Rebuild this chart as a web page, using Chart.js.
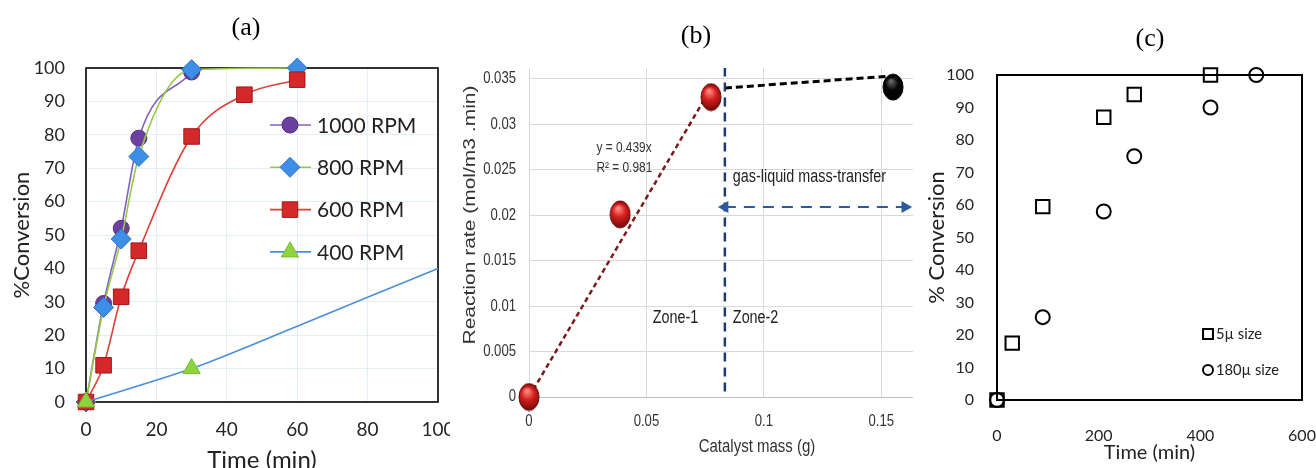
<!DOCTYPE html>
<html><head><meta charset="utf-8">
<script src="https://cdn.jsdelivr.net/npm/chart.js@4.4.0/dist/chart.umd.min.js"></script>
<style>
html,body{margin:0;padding:0;background:#fff;overflow:hidden;width:1316px;height:468px}
canvas{position:absolute;top:0}
</style></head><body>
<canvas id="ca" width="450" height="490" style="left:0"></canvas>
<canvas id="cb" width="470" height="490" style="left:450px"></canvas>
<canvas id="cc" width="396" height="490" style="left:920px"></canvas>
<script>
// ---------- Panel (a) data ----------
const timeA1000 = [0, 5, 10, 15, 30];
const conv1000  = [0, 29.5, 52, 79, 98.8];
const timeA800  = [0, 5, 10, 15, 30, 60];
const conv800   = [0, 28.3, 48.8, 73.5, 99.5, 100];
const timeA600  = [0, 5, 10, 15, 30, 45, 60];
const conv600   = [0, 11, 31.5, 45.3, 79.5, 92, 96.5];
const timeA400  = [0, 30];
const conv400   = [0, 10];
const timeA400Fit = [0, 30, 60, 100];
const conv400Fit  = [0, 10, 22.7, 40];
const legendA = ['1000 RPM', '800 RPM', '600 RPM', '400 RPM'];

// ---------- Panel (b) data ----------
const massB   = [0, 0.0388, 0.0775];
const rateB   = [0, 0.0201, 0.0330];
const massB2  = [0.155];
const rateB2  = [0.0341];
const trendX  = [0, 0.078];
const trendY  = [0, 0.0342];
const plateauX = [0.0834, 0.1534];
const plateauY = [0.0340, 0.0353];
const zoneX   = [0.0834, 0.0834];
const zoneY   = [0.0006, 0.0362];
const arrowX  = [0.0834, 0.1601];
const arrowY  = [0.0209, 0.0209];
const xTicksB = [0, 0.05, 0.1, 0.15];
const yTicksB = [0, 0.005, 0.01, 0.015, 0.02, 0.025, 0.03, 0.035];

// ---------- Panel (c) data ----------
const time5   = [0, 30, 90, 210, 270, 420];
const conv5   = [0, 17.5, 59.5, 87, 94, 100];
const time180 = [0, 90, 210, 270, 420, 510];
const conv180 = [0, 25.5, 58, 75, 90, 100];
const legendC = ['5µ size', '180µ size'];

// ---------- helpers ----------
const xy = (xs, ys) => xs.map((x, i) => ({x, y: ys[i]}));
const LATO = 'Lato, "Open Sans", "Liberation Sans", sans-serif';
const ARIAL = '"Liberation Sans", Arial, sans-serif';
const SERIF = '"Liberation Serif", "DejaVu Serif", serif';
const H = Chart.helpers;

function marker(ctx, style, r, x, y, fill, stroke, bw, rot) {
  ctx.save();
  ctx.fillStyle = fill; ctx.strokeStyle = stroke; ctx.lineWidth = bw;
  if (H && H.drawPoint) {
    H.drawPoint(ctx, {pointStyle: style, radius: r, rotation: rot || 0, borderWidth: bw}, x, y);
  } else {
    ctx.beginPath(); ctx.arc(x, y, r, 0, Math.PI * 2); ctx.fill(); if (bw) ctx.stroke();
  }
  ctx.restore();
}
function framePlugin(color, width) {
  return { id: 'frame', beforeDatasetsDraw(chart) {
    const a = chart.chartArea, ctx = chart.ctx;
    ctx.save(); ctx.strokeStyle = color; ctx.lineWidth = width;
    ctx.strokeRect(a.left, a.top, a.right - a.left, a.bottom - a.top);
    ctx.restore();
  }};
}
function drawText(ctx, t, x, y) {
  ctx.save();
  ctx.font = t.font; ctx.fillStyle = t.color || '#000';
  ctx.textAlign = t.align || 'center'; ctx.textBaseline = 'middle';
  ctx.translate(x, y);
  if (t.sx) ctx.scale(t.sx, 1);
  if (t.rotate) ctx.rotate(t.rotate);
  ctx.fillText(t.text, 0, 0);
  ctx.restore();
}
function textPlugin(items) {
  return { id: 'texts', afterDraw(chart) {
    items.forEach(t => {
      let x = t.x, y = t.y;
      if (t.data) { x = chart.scales.x.getPixelForValue(t.x); y = chart.scales.y.getPixelForValue(t.y); }
      drawText(chart.ctx, t, x, y);
    });
  }};
}
// tick labels drawn from the scale's own ticks, horizontally condensed like the original
function condensedTicks(font, color, sx, xGap, yGap) {
  return { id: 'condTicks', afterDraw(chart) {
    const xs = chart.scales.x, ys = chart.scales.y, a = chart.chartArea;
    xs.ticks.forEach(tk => drawText(chart.ctx, {text: String(tk.value), font, color, sx}, xs.getPixelForValue(tk.value), a.bottom + yGap));
    ys.ticks.forEach(tk => drawText(chart.ctx, {text: String(tk.value), font, color, sx, align: 'right'}, a.left - xGap, ys.getPixelForValue(tk.value)));
  }};
}
function img(w, h, c1, c2, edge) {
  const cv = document.createElement('canvas'); cv.width = w + 2; cv.height = h + 2;
  const g = cv.getContext('2d');
  const gr = g.createRadialGradient(w * 0.45, h * 0.3, 1, w / 2 + 1, h / 2 + 1, h / 2);
  gr.addColorStop(0, c1); gr.addColorStop(0.45, c2); gr.addColorStop(1, edge);
  g.beginPath(); g.ellipse(w / 2 + 1, h / 2 + 1, w / 2, h / 2, 0, 0, Math.PI * 2);
  g.fillStyle = gr; g.fill(); g.strokeStyle = edge; g.lineWidth = 1; g.stroke();
  return cv;
}
const common = { responsive: false, animation: false, events: [],
  plugins: { legend: {display: false}, tooltip: {enabled: false}, title: {display: false} } };

// ---------- Chart (a) ----------
const dsA = [
  {label: legendA[0], data: xy(timeA1000, conv1000), borderColor: '#8262BD', pointBackgroundColor: '#6C40A0',
   pointBorderColor: '#55307F', pointStyle: 'circle', pointRadius: 8, borderWidth: 1.6, order: 5},
  {label: legendA[1], data: xy(timeA800, conv800), borderColor: '#98C84A', pointBackgroundColor: '#3D8EE6',
   pointBorderColor: '#2F72C2', pointStyle: 'rectRot', pointRadius: 10, borderWidth: 1.6, order: 4},
  {label: legendA[2], data: xy(timeA600, conv600), borderColor: '#DE3F37', pointBackgroundColor: '#D4282A',
   pointBorderColor: '#A01A1A', pointStyle: 'rect', pointRadius: 11, borderWidth: 1.6, order: 3},
  {label: '400 fit', data: xy(timeA400Fit, conv400Fit), borderColor: '#4A8FDC', pointRadius: 0,
   borderWidth: 1.6, order: 2, tension: 0.3, cubicInterpolationMode: 'default'},
  {label: legendA[3], data: xy(timeA400, conv400), borderColor: '#4A8FDC', showLine: false,
   pointBackgroundColor: '#8ED43F', pointBorderColor: '#79BA33', pointStyle: 'triangle', pointRadius: 10, order: 1}
];
const legendPluginA = { id: 'legA', afterDraw(chart) {
  const ctx = chart.ctx;
  legendA.forEach((name, i) => {
    const ds = chart.data.datasets.find(d => d.label === name);
    const y = 125 + i * 42.3;
    ctx.save(); ctx.strokeStyle = ds.borderColor; ctx.lineWidth = 1.6;
    ctx.beginPath(); ctx.moveTo(270, y); ctx.lineTo(311, y); ctx.stroke(); ctx.restore();
    marker(ctx, ds.pointStyle, ds.pointRadius, 290, y, ds.pointBackgroundColor, ds.pointBorderColor, 1);
    ctx.save(); ctx.font = '21px ' + LATO; ctx.fillStyle = '#222'; ctx.textBaseline = 'middle';
    ctx.fillText(name, 317, y + 1); ctx.restore();
  });
}};
new Chart(document.getElementById('ca'), {
  type: 'line',
  data: {datasets: dsA},
  options: Object.assign({}, common, {
    layout: {padding: {left: 0, right: 10, top: 68, bottom: 0}},
    datasets: {line: {clip: false, cubicInterpolationMode: 'monotone', pointBorderWidth: 1}},
    scales: {
      x: {type: 'linear', min: 0, max: 100,
          ticks: {stepSize: 20, padding: 16, maxRotation: 0, color: '#262626', font: {family: LATO, size: 19}},
          grid: {color: '#E4EFF5', drawTicks: false}, border: {display: false},
          title: {display: true, text: 'Time (min)', color: '#222', font: {family: LATO, size: 24}, padding: {top: 0, bottom: 15}},
          afterFit(s) { s.height = 88; s.paddingLeft = 0; s.paddingRight = 0; }},
      y: {type: 'linear', min: 0, max: 100,
          ticks: {stepSize: 10, padding: 21, color: '#262626', font: {family: LATO, size: 18}},
          grid: {color: '#E4EFF5', drawTicks: false}, border: {display: false},
          title: {display: true, text: '%Conversion', color: '#222', font: {family: LATO, size: 22}, padding: {top: 9, bottom: 0}},
          afterFit(s) { s.width = 86; s.paddingTop = 0; s.paddingBottom = 0; }}
    }
  }),
  plugins: [framePlugin('#000', 1.6), legendPluginA,
    textPlugin([{text: '(a)', x: 246, y: 28, font: '26px ' + SERIF}])]
});

// ---------- Chart (b) ----------
const redBall = img(20, 27, '#FF8A80', '#D41E1E', '#6E0A0A');
const blackBall = img(20, 26, '#666', '#050505', '#000');
new Chart(document.getElementById('cb'), {
  type: 'line',
  data: {datasets: [
    {label: 'trend', data: xy(trendX, trendY), borderColor: '#7A1A1A', borderWidth: 2.5, borderDash: [5, 3.5], pointRadius: 0, order: 5},
    {label: 'plateau', data: xy(plateauX, plateauY), borderColor: '#000', borderWidth: 3, borderDash: [7, 4], pointRadius: 0, order: 4},
    {label: 'zone', data: xy(zoneX, zoneY), borderColor: '#1F3A70', borderWidth: 2.5, borderDash: [9, 6], pointRadius: 0, order: 3},
    {label: 'arrow', data: xy(arrowX, arrowY), borderColor: '#2A5AA0', borderWidth: 2, borderDash: [11, 8],
     pointStyle: 'triangle', pointRadius: 5, pointRotation: [-90, 90], pointBackgroundColor: '#2A5AA0', pointBorderColor: '#2A5AA0', order: 2},
    {label: 'rate', data: xy(massB, rateB), showLine: false, pointStyle: redBall, order: 1},
    {label: 'rate2', data: xy(massB2, rateB2), showLine: false, pointStyle: blackBall, order: 1}
  ]},
  options: Object.assign({}, common, {
    layout: {padding: {left: 0, right: 3, top: 68, bottom: 0}},
    datasets: {line: {clip: false, tension: 0}},
    scales: {
      x: {type: 'linear', min: 0, max: 0.1635,
          afterBuildTicks(s) { s.ticks = xTicksB.map(v => ({value: v})); },
          ticks: {display: false},
          grid: {color: '#D9D9D9', drawTicks: false}, border: {display: false},
          afterFit(s) { s.height = 93; s.paddingLeft = 0; s.paddingRight = 0; }},
      y: {type: 'linear', min: 0, max: 0.0362,
          afterBuildTicks(s) { s.ticks = yTicksB.map(v => ({value: v})); },
          ticks: {display: false},
          grid: {color: c => (c.tick && c.tick.value === 0 ? '#BFBFBF' : '#D9D9D9'), drawTicks: false}, border: {display: false},
          afterFit(s) { s.width = 79; s.paddingTop = 0; s.paddingBottom = 0; }}
    }
  }),
  plugins: [condensedTicks('16px ' + ARIAL, '#333', 0.82, 13, 25), textPlugin([
    {text: '(b)', x: 246, y: 36, font: '26px ' + SERIF},
    {text: 'Reaction rate (mol/m3 .min)', x: 20, y: 215, rotate: -Math.PI / 2, sx: 0.82, font: '21px ' + ARIAL, color: '#333'},
    {text: 'Catalyst mass (g)', x: 307, y: 447, sx: 0.82, font: '18.3px ' + ARIAL, color: '#333'},
    {text: 'y = 0.439x', data: true, x: 0.0287, y: 0.0274, sx: 0.82, align: 'left', font: '14.5px ' + ARIAL, color: '#333'},
    {text: 'R² = 0.981', data: true, x: 0.0287, y: 0.0252, sx: 0.82, align: 'left', font: '14.5px ' + ARIAL, color: '#333'},
    {text: 'gas-liquid mass-transfer', data: true, x: 0.0868, y: 0.0242, sx: 0.82, align: 'left', font: '17.5px ' + ARIAL, color: '#222'},
    {text: 'Zone-1', data: true, x: 0.0527, y: 0.0087, sx: 0.82, align: 'left', font: '17.5px ' + ARIAL, color: '#222'},
    {text: 'Zone-2', data: true, x: 0.0868, y: 0.0087, sx: 0.82, align: 'left', font: '17.5px ' + ARIAL, color: '#222'}
  ])]
});

// ---------- Chart (c) ----------
const dsC = [
  {label: legendC[0], data: xy(time5, conv5), showLine: false, pointStyle: 'rect', pointRadius: 9.5,
   pointBackgroundColor: 'rgba(0,0,0,0)', pointBorderColor: '#000', pointBorderWidth: 2},
  {label: legendC[1], data: xy(time180, conv180), showLine: false, pointStyle: 'circle', pointRadius: 7,
   pointBackgroundColor: 'rgba(0,0,0,0)', pointBorderColor: '#000', pointBorderWidth: 2}
];
const legendPluginC = { id: 'legC', afterDraw(chart) {
  const ctx = chart.ctx;
  legendC.forEach((name, i) => {
    const ds = chart.data.datasets[i];
    const y = 334 + i * 36;
    marker(ctx, ds.pointStyle, ds.pointStyle === 'rect' ? 7 : 5, 288, y, 'rgba(0,0,0,0)', '#000', 2);
    ctx.save(); ctx.font = '16px ' + LATO; ctx.fillStyle = '#222'; ctx.textBaseline = 'middle';
    ctx.translate(296, y); ctx.scale(0.92, 1);
    ctx.fillText(name, 0, 0); ctx.restore();
  });
}};
new Chart(document.getElementById('cc'), {
  type: 'line',
  data: {datasets: dsC},
  options: Object.assign({}, common, {
    layout: {padding: {left: 0, right: 14, top: 75, bottom: 0}},
    datasets: {line: {clip: false}},
    scales: {
      x: {type: 'linear', min: 0, max: 600,
          ticks: {stepSize: 200, padding: 18, maxRotation: 0, color: '#262626', font: {family: LATO, size: 16}},
          grid: {display: false}, border: {display: false},
          title: {display: true, text: 'Time (min)', color: '#222', font: {family: LATO, size: 20}, padding: {top: 0, bottom: 25}},
          afterFit(s) { s.height = 90; s.paddingLeft = 0; s.paddingRight = 0; }},
      y: {type: 'linear', min: 0, max: 100,
          ticks: {stepSize: 10, padding: 15, color: '#262626', font: {family: LATO, size: 16}},
          grid: {display: false}, border: {display: false},
          title: {display: true, text: '% Conversion', color: '#222', font: {family: LATO, size: 22}, padding: {top: 4, bottom: 0}},
          afterFit(s) { s.width = 77; s.paddingTop = 0; s.paddingBottom = 0; }}
    }
  }),
  plugins: [framePlugin('#000', 2), legendPluginC,
    textPlugin([{text: '(c)', x: 230, y: 39, font: '26px ' + SERIF}])]
});
</script>
</body></html>
